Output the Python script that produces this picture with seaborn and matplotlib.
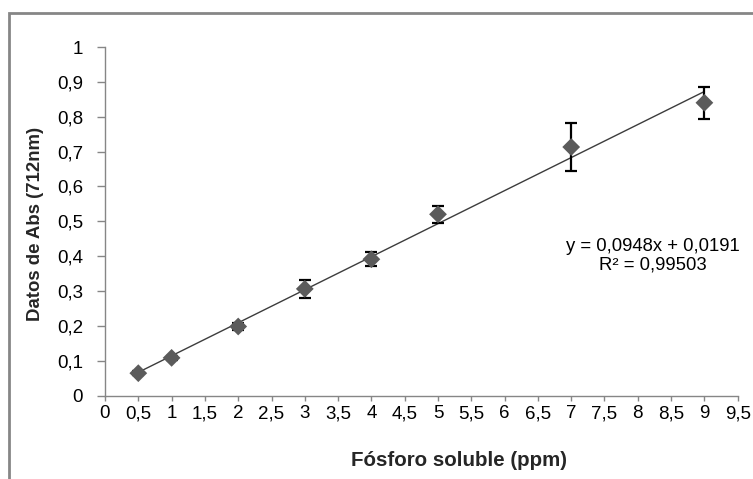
import matplotlib
matplotlib.use("Agg")
import matplotlib.pyplot as plt
from matplotlib.patches import Rectangle
import seaborn as sns
import numpy as np
import pandas as pd

# Calibration data: soluble phosphorus vs absorbance at 712 nm
concentration = [0.5, 1, 2, 3, 4, 5, 7, 9]
absorbance = [0.064, 0.108, 0.198, 0.306, 0.391, 0.520, 0.713, 0.840]
abs_error = [0.005, 0.006, 0.010, 0.026, 0.020, 0.025, 0.068, 0.046]

# Linear fit reported for the calibration curve
slope = 0.0948
intercept = 0.0191
r_squared = 0.99503

x_ticks = [i * 0.5 for i in range(20)]
x_tick_labels = ["0", "0,5", "1", "1,5", "2", "2,5", "3", "3,5", "4", "4,5",
                 "5", "5,5", "6", "6,5", "7", "7,5", "8", "8,5", "9", "9,5"]
y_ticks = [i / 10 for i in range(11)]
y_tick_labels = ["0", "0,1", "0,2", "0,3", "0,4", "0,5", "0,6", "0,7", "0,8", "0,9", "1"]

df = pd.DataFrame({"conc": concentration, "abs": absorbance, "err": abs_error})

sns.set_theme(style="white")
plt.rcParams["font.family"] = ["Liberation Sans", "DejaVu Sans"]

fig = plt.figure(figsize=(7.53, 4.79), dpi=100)
ax = fig.add_axes([105 / 753, 83.5 / 479, 632.7 / 753, 348.5 / 479])

grey = "#868686"

# trend line over the measured range
fit_x = np.array([min(concentration), max(concentration)])
fit_df = pd.DataFrame({"conc": fit_x, "abs": slope * fit_x + intercept})
sns.lineplot(data=fit_df, x="conc", y="abs", ax=ax, color="#3c3c3c", lw=1.0, zorder=2)

ax.errorbar(df["conc"], df["abs"], yerr=df["err"], fmt="none", ecolor="black",
            elinewidth=1.6, capsize=4.5, capthick=1.6, zorder=3)
sns.scatterplot(data=df, x="conc", y="abs", ax=ax, marker="D", s=82,
                color="#5b5b5b", edgecolor="none", linewidth=0, zorder=4)

ax.set_xlim(0, 9.5)
ax.set_ylim(0, 1)
ax.set_xticks(x_ticks)
ax.set_xticklabels(x_tick_labels)
ax.set_yticks(y_ticks)
ax.set_yticklabels(y_tick_labels)

for side in ["top", "right"]:
    ax.spines[side].set_visible(False)
for side in ["left", "bottom"]:
    ax.spines[side].set_color(grey)
    ax.spines[side].set_linewidth(1.0)

ax.tick_params(axis="y", direction="out", length=5.8, width=1.0, color=grey,
               pad=10, labelsize=13.5, labelcolor="black", left=True)
ax.tick_params(axis="x", direction="out", length=3.6, width=1.0, color=grey,
               pad=3.5, labelsize=13.5, labelcolor="black", bottom=True)

label_family = ["Liberation Sans Narrow", "Liberation Sans", "DejaVu Sans"]
ax.set_xlabel("Fósforo soluble (ppm)", family=label_family, weight="bold", size=14.8)
ax.set_ylabel("Datos de Abs (712nm)", family=label_family, weight="bold", size=13.4)
ax.xaxis.set_label_coords((459 - 105) / 632.7, -(451 - 395.5) / 348.5)
ax.yaxis.set_label_coords(-(105 - 44) / 632.7, (395.5 - 224) / 348.5)

eq_text = (f"y = {slope:.4f}x + {intercept:.4f}".replace(".", ",")
           + "\n" + f"R² = {r_squared:.5f}".replace(".", ","))
ax.text(8.22, 0.402, eq_text, ha="center", va="center", multialignment="center",
        fontsize=13.3, linespacing=1.1, color="black")

# chart border
fig.add_artist(Rectangle((8.5 / 753, -0.2), 1.2, 1.2 - 13 / 479,
                         transform=fig.transFigure, fill=False,
                         edgecolor=grey, linewidth=2.0, clip_on=False))

fig.savefig("out.png", dpi=100)
